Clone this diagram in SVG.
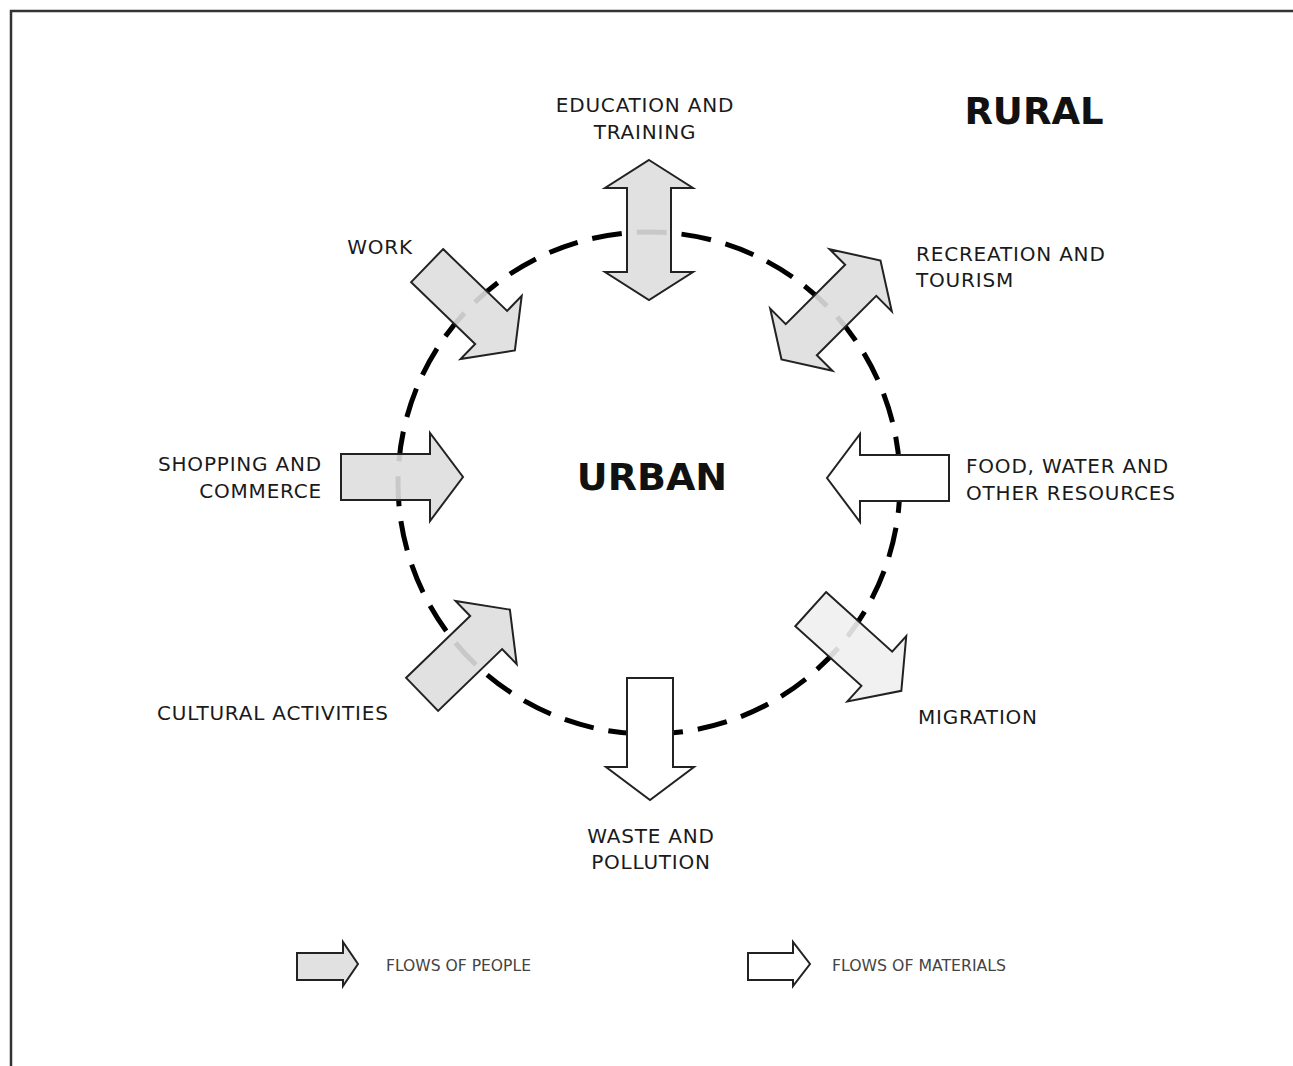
<svg xmlns="http://www.w3.org/2000/svg" width="1293" height="1066" viewBox="0 0 1293 1066">
<style>
.lbl{font-family:"DejaVu Sans","Liberation Sans",sans-serif;font-size:20px;letter-spacing:0.8px;fill:#1a1a1a}
.big{font-family:"DejaVu Sans","Liberation Sans",sans-serif;font-weight:bold;fill:#111}
.leg{font-family:"DejaVu Sans","Liberation Sans",sans-serif;font-size:15px;fill:#444}
.people{fill:#dedede;fill-opacity:0.9;stroke:#222;stroke-width:2;stroke-linejoin:miter}
.people2{fill:#efefef;fill-opacity:0.9;stroke:#222;stroke-width:2}
.mat{fill:#ffffff;stroke:#222;stroke-width:2}
</style>
<defs>
<path id="single" d="M -61 -23 L 28 -23 L 28 -44 L 61 0 L 28 44 L 28 23 L -61 23 Z"/>
<path id="double" d="M -70 0 L -42 -44 L -42 -22 L 42 -22 L 42 -44 L 70 0 L 42 44 L 42 22 L -42 22 L -42 44 Z"/>
</defs>
<rect x="11" y="11" width="1300" height="1100" fill="#fff" stroke="#333" stroke-width="2.5"/>
<g id="connectors">
<circle id="boundary" cx="649" cy="483" r="251" fill="none" stroke="#000" stroke-width="5" stroke-dasharray="30 15"/>
</g>
<g id="education"><use href="#double" class="people" transform="translate(649,230) rotate(90)"/>
<text class="lbl" x="645" y="112" text-anchor="middle">EDUCATION AND</text>
<text class="lbl" x="645" y="139" text-anchor="middle">TRAINING</text></g>
<g id="recreation"><use href="#double" class="people" transform="translate(831,310) rotate(-45)"/>
<text class="lbl" x="916" y="261">RECREATION AND</text>
<text class="lbl" x="916" y="287">TOURISM</text></g>
<g id="work"><use href="#single" class="people" transform="translate(471,308) rotate(44)"/>
<text class="lbl" x="380" y="254" text-anchor="middle">WORK</text></g>
<g id="shopping"><use href="#single" class="people" transform="translate(402,477)"/>
<text class="lbl" x="322" y="471" text-anchor="end">SHOPPING AND</text>
<text class="lbl" x="322" y="498" text-anchor="end">COMMERCE</text></g>
<g id="food"><use href="#single" class="mat" transform="translate(888,478) rotate(180)"/>
<text class="lbl" x="966" y="473">FOOD, WATER AND</text>
<text class="lbl" x="966" y="500">OTHER RESOURCES</text></g>
<g id="cultural"><use href="#single" class="people" transform="translate(466,652) rotate(-44)"/>
<text class="lbl" x="157" y="720">CULTURAL ACTIVITIES</text></g>
<g id="migration"><use href="#single" class="people2" transform="translate(856,650) rotate(42)"/>
<text class="lbl" x="918" y="724">MIGRATION</text></g>
<g id="waste"><use href="#single" class="mat" transform="translate(650,739) rotate(90)"/>
<text class="lbl" x="651" y="843" text-anchor="middle">WASTE AND</text>
<text class="lbl" x="651" y="869" text-anchor="middle">POLLUTION</text></g>
<g id="rural"><text class="big" x="1034" y="124" font-size="37" text-anchor="middle">RURAL</text></g>
<g id="urban"><text class="big" x="652" y="490" font-size="38" text-anchor="middle">URBAN</text></g>
<g id="legend-people"><path class="people" d="M 297 953 L 343 953 L 343 942 L 358 964 L 343 986 L 343 980 L 297 980 Z"/>
<text class="leg" x="386" y="971" textLength="145" lengthAdjust="spacingAndGlyphs">FLOWS OF PEOPLE</text></g>
<g id="legend-materials"><path class="mat" d="M 748 953 L 793 953 L 793 942 L 810 964 L 793 986 L 793 980 L 748 980 Z"/>
<text class="leg" x="832" y="971" textLength="174" lengthAdjust="spacingAndGlyphs">FLOWS OF MATERIALS</text></g>
</svg>
